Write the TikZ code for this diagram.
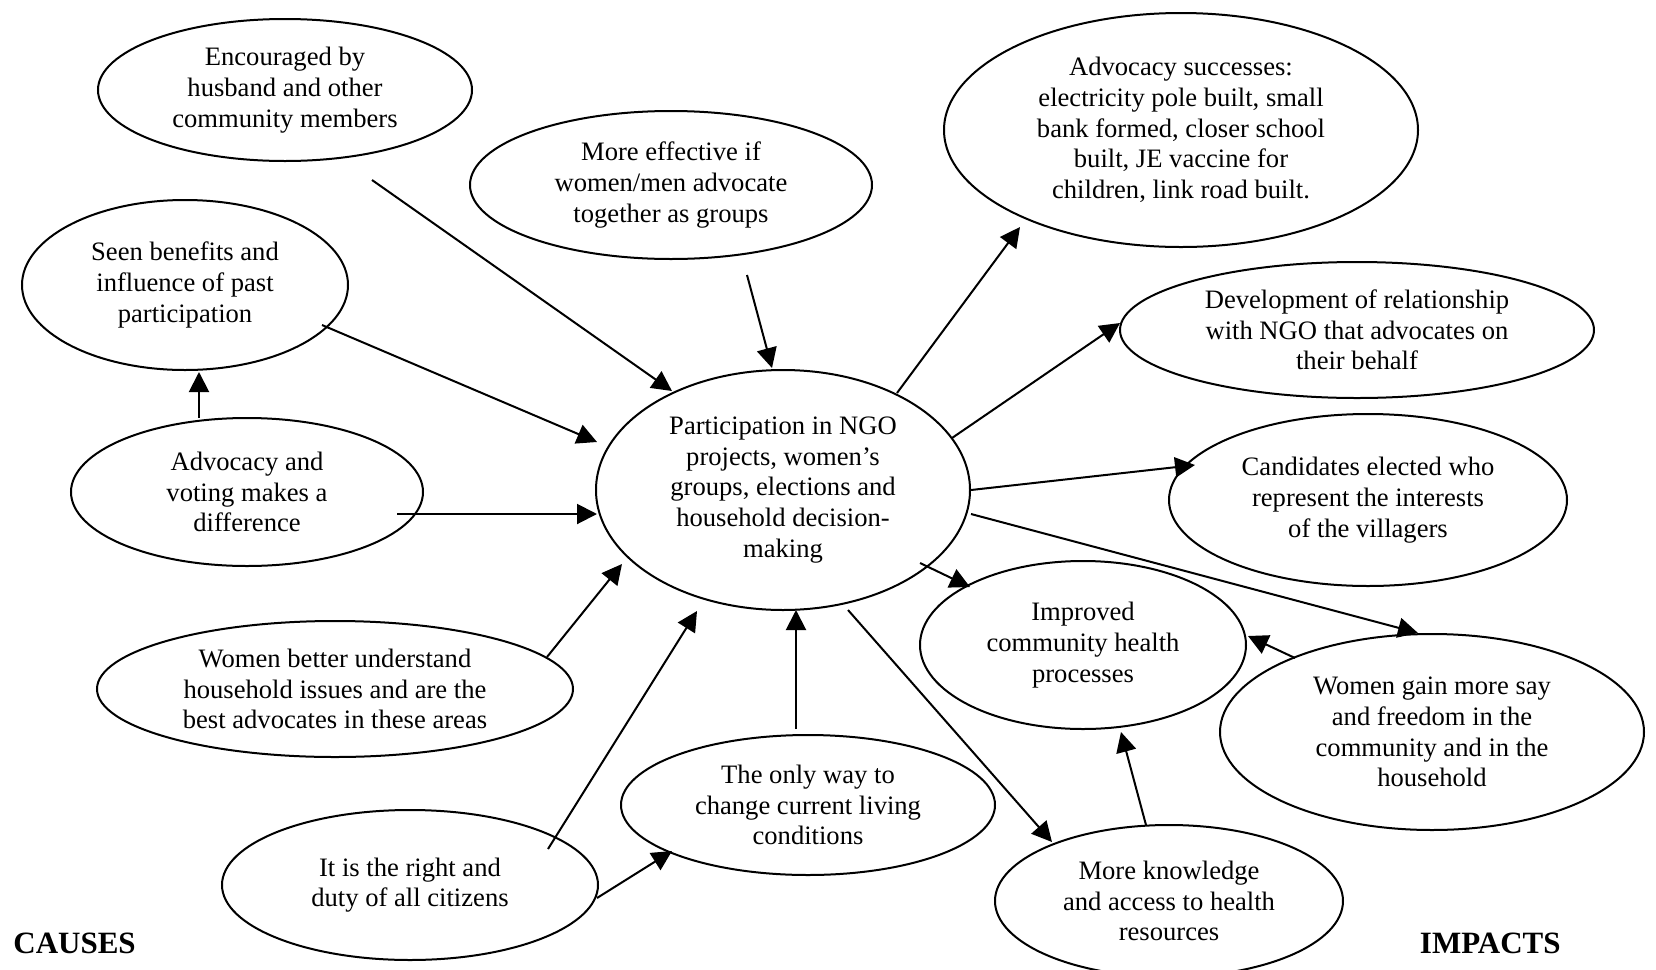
\documentclass[tikz,border=0pt]{standalone}
\usepackage{fontspec}
\setmainfont{Liberation Serif}
\usetikzlibrary{shapes.geometric,arrows.meta,calc}

\tikzset{
  oval/.style 2 args={ellipse, draw, line width=1pt, inner sep=0pt, align=center,
    minimum width=#1pt, minimum height=#2pt,
    font=\fontsize{13.3pt}{15.35pt}\selectfont,
    execute at begin node={\rule{0pt}{11.7pt}}},
  arr/.style={line width=1pt, -{Triangle[length=10pt,width=10pt]}},
  heading/.style={font=\fontsize{15.5pt}{18pt}\selectfont\bfseries, inner sep=0pt}
}

\begin{document}
\begin{tikzpicture}[x=0.5pt,y=-0.5pt]
\useasboundingbox (0,0) rectangle (1656,970);

% causes (left side)
\node[oval={187}{71}]  (enc)   at (285,90)   {Encouraged by\\husband and other\\community members};
\node[oval={201}{74}]  (eff)   at (671,185)  {More effective if\\women/men advocate\\together as groups};
\node[oval={163}{85}]  (seen)  at (185,285)  {Seen benefits and\\influence of past\\participation};
\node[oval={176}{74}]  (vote)  at (247,492)  {Advocacy and\\voting makes a\\difference};
\node[oval={238}{68}]  (under) at (335,689)  {Women better understand\\household issues and are the\\best advocates in these areas};
\node[oval={187}{70}]  (only)  at (808,805)  {The only way to\\change current living\\conditions};
\node[oval={188}{75}]  (right) at (410,885)  {It is the right and\\duty of all citizens};

% central node
\node[oval={187}{120}] (part)  at (783,490)  {Participation in NGO\\projects, women’s\\groups, elections and\\household decision-\\making};

% impacts (right side)
\node[oval={237}{117}] (succ)  at (1181,130) {Advocacy successes:\\electricity pole built, small\\bank formed, closer school\\built, JE vaccine for\\children, link road built.};
\node[oval={237}{68}]  (dev)   at (1357,330) {Development of relationship\\with NGO that advocates on\\their behalf};
\node[oval={199}{86}]  (cand)  at (1368,500) {Candidates elected who\\represent the interests\\of the villagers};
\node[oval={163}{84}]  (health) at (1083,645) {Improved\\community health\\processes};
\node[oval={212}{98}]  (gain)  at (1432,732) {Women gain more say\\and freedom in the\\community and in the\\household};
\node[oval={174}{76}]  (know)  at (1169,901) {More knowledge\\and access to health\\resources};

% corner headings
\node[heading, anchor=base west] (causes)  at (13,953)   {CAUSES};
\node[heading, anchor=base east] (impacts) at (1561,953) {IMPACTS};

% arrows into the central node
\draw[arr] ($(enc)+(87,90)$)     -- ($(part)+(-111,-99)$);
\draw[arr] ($(eff)+(76,90)$)     -- ($(part)+(-11,-122)$);
\draw[arr] ($(seen)+(137,40)$)   -- ($(part)+(-186,-48)$);
\draw[arr] ($(vote)+(-48,-74)$)  -- ($(seen)+(14,87)$);
\draw[arr] ($(vote)+(150,22)$)   -- ($(part)+(-186,24)$);
\draw[arr] ($(under)+(212,-32)$) -- ($(part)+(-161,74)$);
\draw[arr] ($(right)+(138,-36)$) -- ($(part)+(-86,121)$);
\draw[arr] ($(right)+(187,13)$)  -- ($(only)+(-136,46)$);
\draw[arr] ($(only)+(-12,-76)$)  -- ($(part)+(13,120)$);

% arrows out of the central node
\draw[arr] ($(part)+(114,-97)$)  -- ($(succ)+(-161,97)$);
\draw[arr] ($(part)+(169,-52)$)  -- ($(dev)+(-237,-7)$);
\draw[arr] ($(part)+(188,0)$)    -- ($(cand)+(-173,-35)$);
\draw[arr] ($(part)+(188,24)$)   -- ($(gain)+(-14,-99)$);
\draw[arr] ($(part)+(137,73)$)   -- ($(health)+(-113,-58)$);
\draw[arr] ($(part)+(65,120)$)   -- ($(know)+(-117,-59)$);
\draw[arr] ($(gain)+(-137,-74)$) -- ($(health)+(165,-9)$);
\draw[arr] ($(know)+(-23,-76)$)  -- ($(health)+(38,87)$);
\end{tikzpicture}
\end{document}
